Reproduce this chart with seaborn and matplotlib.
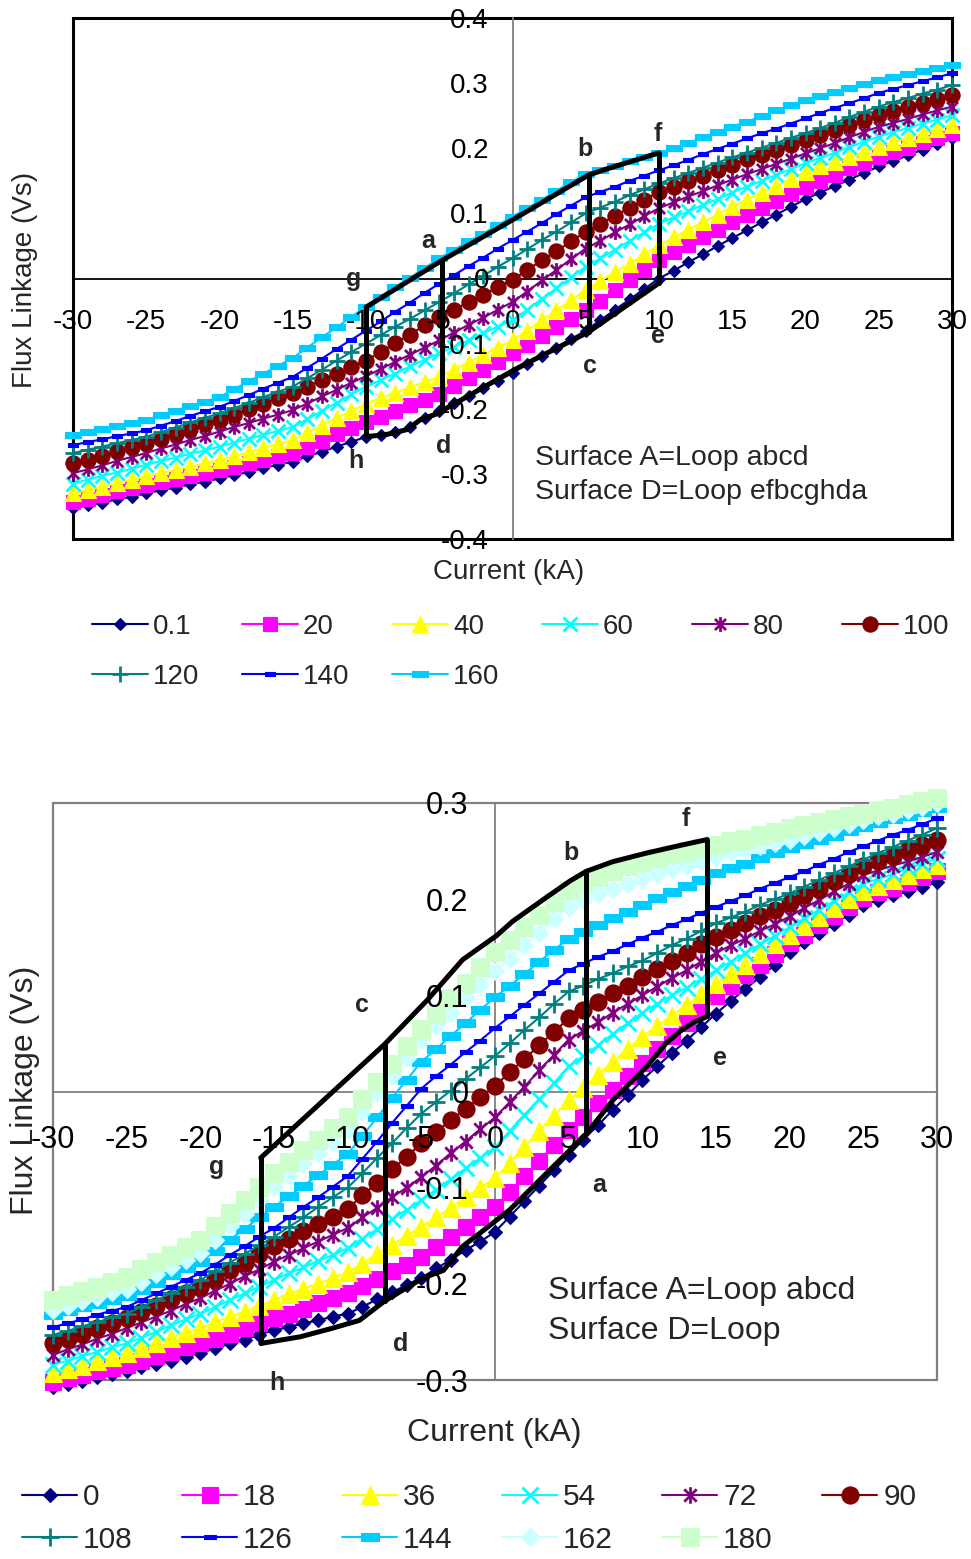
import matplotlib
matplotlib.use("Agg")
import matplotlib.pyplot as plt
import seaborn as sns
import pandas as pd
from matplotlib.path import Path
from matplotlib.patches import Rectangle

# ---------------- data ----------------
current_kA = list(range(-30, 31))

top_labels = ["0.1", "20", "40", "60", "80", "100", "120", "140", "160"]
top_0_1 = [-0.353, -0.348, -0.344, -0.339, -0.335, -0.330, -0.325, -0.321, -0.316, -0.312,
           -0.307, -0.302, -0.297, -0.291, -0.286, -0.281, -0.273, -0.266, -0.258, -0.251,
           -0.243, -0.240, -0.236, -0.228, -0.214, -0.203, -0.191, -0.180, -0.168, -0.157,
           -0.145, -0.132, -0.119, -0.106, -0.093, -0.080, -0.064, -0.048, -0.032, -0.016,
           0.000, 0.012, 0.025, 0.037, 0.050, 0.062, 0.074, 0.086, 0.098, 0.110,
           0.122, 0.132, 0.142, 0.152, 0.162, 0.172, 0.181, 0.189, 0.198, 0.206, 0.215]
top_20 = [-0.343, -0.338, -0.333, -0.327, -0.322, -0.317, -0.312, -0.308, -0.303, -0.299,
          -0.294, -0.289, -0.284, -0.278, -0.273, -0.268, -0.258, -0.249, -0.239, -0.230,
          -0.220, -0.212, -0.203, -0.195, -0.186, -0.178, -0.165, -0.153, -0.140, -0.128,
          -0.115, -0.102, -0.089, -0.075, -0.062, -0.049, -0.034, -0.018, -0.003, 0.013,
          0.028, 0.040, 0.052, 0.063, 0.075, 0.087, 0.098, 0.109, 0.119, 0.130,
          0.141, 0.150, 0.159, 0.169, 0.178, 0.187, 0.194, 0.201, 0.209, 0.216, 0.223]
top_40 = [-0.330, -0.325, -0.320, -0.314, -0.309, -0.304, -0.299, -0.294, -0.289, -0.284,
          -0.279, -0.273, -0.267, -0.260, -0.254, -0.248, -0.237, -0.226, -0.214, -0.203,
          -0.192, -0.184, -0.176, -0.167, -0.159, -0.151, -0.140, -0.129, -0.117, -0.106,
          -0.095, -0.080, -0.064, -0.049, -0.033, -0.018, -0.004, 0.010, 0.023, 0.037,
          0.051, 0.063, 0.075, 0.086, 0.098, 0.110, 0.121, 0.132, 0.142, 0.153,
          0.164, 0.172, 0.179, 0.187, 0.194, 0.202, 0.209, 0.216, 0.222, 0.229, 0.236]
top_60 = [-0.315, -0.309, -0.303, -0.298, -0.292, -0.286, -0.280, -0.275, -0.269, -0.264,
          -0.258, -0.252, -0.246, -0.240, -0.234, -0.228, -0.216, -0.203, -0.191, -0.178,
          -0.166, -0.156, -0.146, -0.135, -0.125, -0.115, -0.105, -0.095, -0.084, -0.074,
          -0.064, -0.048, -0.031, -0.015, 0.002, 0.018, 0.031, 0.044, 0.058, 0.071,
          0.084, 0.094, 0.103, 0.113, 0.122, 0.132, 0.141, 0.150, 0.159, 0.168,
          0.177, 0.185, 0.193, 0.202, 0.210, 0.218, 0.225, 0.231, 0.238, 0.244, 0.251]
top_80 = [-0.299, -0.293, -0.287, -0.280, -0.274, -0.268, -0.261, -0.255, -0.248, -0.242,
          -0.235, -0.228, -0.222, -0.215, -0.209, -0.202, -0.192, -0.181, -0.171, -0.160,
          -0.150, -0.139, -0.128, -0.117, -0.106, -0.095, -0.083, -0.071, -0.060, -0.048,
          -0.036, -0.020, -0.003, 0.013, 0.030, 0.046, 0.058, 0.071, 0.083, 0.096,
          0.108, 0.117, 0.126, 0.134, 0.143, 0.152, 0.160, 0.168, 0.176, 0.184,
          0.192, 0.200, 0.208, 0.217, 0.225, 0.233, 0.239, 0.245, 0.252, 0.258, 0.264]
top_100 = [-0.284, -0.278, -0.272, -0.265, -0.259, -0.253, -0.246, -0.239, -0.231, -0.224,
           -0.217, -0.209, -0.201, -0.192, -0.184, -0.176, -0.166, -0.156, -0.146, -0.136,
           -0.126, -0.113, -0.099, -0.086, -0.072, -0.059, -0.048, -0.036, -0.025, -0.013,
           -0.002, 0.013, 0.028, 0.042, 0.057, 0.072, 0.084, 0.096, 0.109, 0.121,
           0.133, 0.141, 0.150, 0.158, 0.167, 0.175, 0.183, 0.190, 0.198, 0.205,
           0.213, 0.221, 0.228, 0.236, 0.243, 0.251, 0.257, 0.263, 0.270, 0.276, 0.282]
top_120 = [-0.268, -0.263, -0.258, -0.253, -0.248, -0.243, -0.236, -0.229, -0.221, -0.214,
           -0.207, -0.199, -0.191, -0.182, -0.174, -0.166, -0.153, -0.140, -0.126, -0.113,
           -0.100, -0.087, -0.074, -0.062, -0.049, -0.036, -0.023, -0.009, 0.004, 0.018,
           0.031, 0.045, 0.059, 0.072, 0.086, 0.100, 0.109, 0.118, 0.128, 0.137,
           0.146, 0.154, 0.162, 0.170, 0.178, 0.186, 0.193, 0.201, 0.208, 0.216,
           0.223, 0.231, 0.239, 0.248, 0.256, 0.264, 0.271, 0.277, 0.284, 0.290, 0.297]
top_140 = [-0.256, -0.251, -0.247, -0.242, -0.238, -0.233, -0.226, -0.219, -0.211, -0.204,
           -0.197, -0.188, -0.179, -0.169, -0.160, -0.151, -0.137, -0.123, -0.108, -0.094,
           -0.080, -0.066, -0.051, -0.037, -0.022, -0.008, 0.005, 0.019, 0.032, 0.046,
           0.059, 0.072, 0.085, 0.099, 0.112, 0.125, 0.133, 0.141, 0.150, 0.158,
           0.166, 0.174, 0.182, 0.191, 0.199, 0.207, 0.215, 0.223, 0.230, 0.238,
           0.246, 0.254, 0.262, 0.269, 0.277, 0.285, 0.291, 0.297, 0.303, 0.309, 0.315]
top_160 = [-0.240, -0.235, -0.231, -0.226, -0.222, -0.217, -0.210, -0.203, -0.196, -0.189,
           -0.182, -0.170, -0.158, -0.146, -0.134, -0.122, -0.106, -0.090, -0.075, -0.059,
           -0.043, -0.028, -0.013, 0.001, 0.016, 0.031, 0.044, 0.057, 0.069, 0.082,
           0.095, 0.108, 0.121, 0.135, 0.148, 0.161, 0.167, 0.173, 0.180, 0.186,
           0.192, 0.200, 0.208, 0.217, 0.225, 0.233, 0.241, 0.249, 0.258, 0.266,
           0.274, 0.280, 0.286, 0.293, 0.299, 0.305, 0.310, 0.314, 0.319, 0.323, 0.328]

bot_labels = ["0", "18", "36", "54", "72", "90", "108", "126", "144", "162", "180"]
bot_0 = [-0.307, -0.304, -0.301, -0.297, -0.294, -0.291, -0.287, -0.283, -0.280, -0.276,
         -0.272, -0.267, -0.262, -0.258, -0.253, -0.248, -0.245, -0.241, -0.238, -0.234,
         -0.231, -0.224, -0.216, -0.209, -0.201, -0.194, -0.184, -0.175, -0.165, -0.156,
         -0.146, -0.130, -0.114, -0.098, -0.082, -0.066, -0.050, -0.035, -0.019, -0.004,
         0.012, 0.026, 0.040, 0.053, 0.067, 0.081, 0.094, 0.107, 0.119, 0.132,
         0.145, 0.155, 0.165, 0.174, 0.184, 0.194, 0.199, 0.204, 0.208, 0.213, 0.218]
bot_18 = [-0.302, -0.298, -0.295, -0.291, -0.288, -0.284, -0.280, -0.275, -0.271, -0.266,
          -0.262, -0.257, -0.252, -0.246, -0.241, -0.236, -0.231, -0.226, -0.220, -0.215,
          -0.210, -0.202, -0.195, -0.187, -0.180, -0.172, -0.162, -0.151, -0.141, -0.130,
          -0.120, -0.104, -0.088, -0.072, -0.056, -0.040, -0.026, -0.012, 0.002, 0.016,
          0.030, 0.044, 0.058, 0.071, 0.085, 0.099, 0.110, 0.121, 0.132, 0.143,
          0.154, 0.163, 0.173, 0.182, 0.192, 0.201, 0.207, 0.212, 0.218, 0.223, 0.229]
bot_36 = [-0.293, -0.289, -0.285, -0.280, -0.276, -0.272, -0.267, -0.262, -0.256, -0.251,
          -0.246, -0.240, -0.234, -0.229, -0.223, -0.217, -0.211, -0.205, -0.200, -0.194,
          -0.188, -0.179, -0.169, -0.160, -0.150, -0.141, -0.131, -0.121, -0.110, -0.100,
          -0.090, -0.074, -0.058, -0.041, -0.025, -0.009, 0.004, 0.017, 0.031, 0.044,
          0.057, 0.068, 0.079, 0.090, 0.101, 0.112, 0.122, 0.132, 0.143, 0.153,
          0.163, 0.172, 0.181, 0.191, 0.200, 0.209, 0.214, 0.220, 0.225, 0.231, 0.236]
bot_54 = [-0.284, -0.280, -0.275, -0.271, -0.266, -0.262, -0.256, -0.250, -0.243, -0.237,
          -0.231, -0.224, -0.217, -0.210, -0.203, -0.196, -0.189, -0.183, -0.176, -0.170,
          -0.163, -0.153, -0.143, -0.133, -0.123, -0.113, -0.102, -0.091, -0.080, -0.069,
          -0.058, -0.041, -0.024, -0.008, 0.009, 0.026, 0.037, 0.048, 0.060, 0.071,
          0.082, 0.091, 0.100, 0.108, 0.117, 0.126, 0.135, 0.144, 0.153, 0.162,
          0.171, 0.180, 0.189, 0.198, 0.207, 0.216, 0.221, 0.226, 0.232, 0.237, 0.242]
bot_72 = [-0.274, -0.268, -0.263, -0.257, -0.252, -0.246, -0.240, -0.234, -0.228, -0.221,
          -0.215, -0.207, -0.200, -0.192, -0.185, -0.177, -0.170, -0.163, -0.156, -0.149,
          -0.142, -0.131, -0.121, -0.110, -0.100, -0.089, -0.077, -0.064, -0.052, -0.039,
          -0.027, -0.011, 0.005, 0.022, 0.038, 0.054, 0.063, 0.072, 0.082, 0.091,
          0.100, 0.109, 0.118, 0.126, 0.135, 0.144, 0.152, 0.159, 0.167, 0.174,
          0.182, 0.191, 0.199, 0.208, 0.216, 0.225, 0.230, 0.235, 0.239, 0.244, 0.249]
bot_90 = [-0.262, -0.257, -0.252, -0.246, -0.241, -0.236, -0.229, -0.223, -0.216, -0.210,
          -0.203, -0.195, -0.186, -0.178, -0.169, -0.161, -0.153, -0.145, -0.138, -0.130,
          -0.122, -0.108, -0.095, -0.081, -0.068, -0.054, -0.042, -0.030, -0.018, -0.006,
          0.006, 0.020, 0.034, 0.048, 0.062, 0.076, 0.085, 0.093, 0.102, 0.110,
          0.119, 0.127, 0.136, 0.144, 0.153, 0.161, 0.168, 0.175, 0.182, 0.189,
          0.196, 0.204, 0.211, 0.219, 0.226, 0.234, 0.240, 0.245, 0.251, 0.256, 0.262]
bot_108 = [-0.253, -0.249, -0.244, -0.240, -0.235, -0.231, -0.224, -0.217, -0.210, -0.203,
           -0.196, -0.187, -0.178, -0.169, -0.160, -0.151, -0.141, -0.131, -0.120, -0.110,
           -0.100, -0.085, -0.069, -0.054, -0.038, -0.023, -0.011, 0.001, 0.013, 0.025,
           0.037, 0.050, 0.064, 0.077, 0.091, 0.104, 0.110, 0.117, 0.123, 0.130,
           0.136, 0.144, 0.152, 0.159, 0.167, 0.175, 0.181, 0.187, 0.194, 0.200,
           0.206, 0.213, 0.220, 0.227, 0.234, 0.241, 0.248, 0.254, 0.261, 0.267, 0.274]
bot_126 = [-0.245, -0.241, -0.237, -0.232, -0.228, -0.224, -0.217, -0.210, -0.203, -0.196,
           -0.189, -0.180, -0.170, -0.161, -0.151, -0.142, -0.131, -0.120, -0.110, -0.099,
           -0.088, -0.070, -0.052, -0.033, -0.015, 0.003, 0.016, 0.028, 0.041, 0.053,
           0.066, 0.078, 0.090, 0.102, 0.114, 0.126, 0.133, 0.140, 0.146, 0.153,
           0.160, 0.166, 0.173, 0.179, 0.186, 0.192, 0.198, 0.204, 0.211, 0.217,
           0.223, 0.229, 0.236, 0.242, 0.249, 0.255, 0.261, 0.267, 0.272, 0.278, 0.284]
bot_144 = [-0.232, -0.228, -0.224, -0.221, -0.217, -0.213, -0.206, -0.199, -0.191, -0.184,
           -0.177, -0.166, -0.154, -0.143, -0.131, -0.120, -0.109, -0.098, -0.087, -0.076,
           -0.065, -0.046, -0.027, -0.007, 0.012, 0.031, 0.044, 0.058, 0.071, 0.085,
           0.098, 0.110, 0.122, 0.135, 0.147, 0.159, 0.166, 0.173, 0.180, 0.187,
           0.194, 0.201, 0.207, 0.214, 0.220, 0.227, 0.232, 0.237, 0.243, 0.248,
           0.253, 0.257, 0.262, 0.266, 0.271, 0.275, 0.279, 0.283, 0.287, 0.291, 0.295]
bot_162 = [-0.227, -0.223, -0.218, -0.214, -0.209, -0.205, -0.198, -0.190, -0.183, -0.175,
           -0.168, -0.154, -0.140, -0.127, -0.113, -0.099, -0.087, -0.075, -0.064, -0.052,
           -0.040, -0.021, -0.002, 0.016, 0.035, 0.054, 0.068, 0.082, 0.097, 0.111,
           0.125, 0.138, 0.152, 0.165, 0.179, 0.192, 0.199, 0.205, 0.211, 0.216,
           0.221, 0.226, 0.231, 0.235, 0.240, 0.244, 0.248, 0.251, 0.255, 0.258,
           0.262, 0.266, 0.270, 0.274, 0.278, 0.282, 0.286, 0.289, 0.293, 0.296, 0.300]
bot_180 = [-0.217, -0.212, -0.207, -0.203, -0.198, -0.193, -0.185, -0.177, -0.170, -0.162,
           -0.154, -0.140, -0.126, -0.113, -0.099, -0.085, -0.073, -0.061, -0.050, -0.038,
           -0.026, -0.008, 0.010, 0.029, 0.047, 0.065, 0.081, 0.097, 0.113, 0.129,
           0.145, 0.158, 0.171, 0.184, 0.197, 0.210, 0.217, 0.223, 0.229, 0.234,
           0.239, 0.243, 0.247, 0.250, 0.253, 0.256, 0.260, 0.263, 0.267, 0.270,
           0.274, 0.277, 0.280, 0.283, 0.286, 0.289, 0.292, 0.295, 0.299, 0.302, 0.305]

# loop outlines
top_loop_upper_x = [-10.0, -4.8, 0.0, 5.2, 6.4, 10.0]
top_loop_upper_y = [-0.044, 0.028, 0.090, 0.159, 0.168, 0.193]
top_loop_lower_x = [10.0, 5.2, 0.3, -4.8, -5.3, -6.3, -7.2, -8.5, -10.0]
top_loop_lower_y = [-0.007, -0.082, -0.138, -0.203, -0.209, -0.217, -0.232, -0.239, -0.243]
top_loop_vert_x = [-10.0, -4.8, 5.2, 10.0]
top_loop_vert_lo = [-0.243, -0.203, -0.082, -0.007]
top_loop_vert_hi = [-0.044, 0.028, 0.159, 0.193]

bot_loop_upper_x = [-15.9, -7.5, -4.6, -2.2, 0.1, 1.2, 3.5, 5.1, 6.2, 8.0, 10.3, 12.6, 14.4]
bot_loop_upper_y = [-0.069, 0.049, 0.095, 0.137, 0.162, 0.177, 0.202, 0.219, 0.229, 0.239, 0.248, 0.256, 0.262]
bot_loop_lower_x = [14.4, 13.5, 12.6, 11.6, 10.3, 8.0, 6.2, 3.5, 1.0, -1.0, -2.2, -3.5, -4.9,
                    -7.5, -9.2, -11.0, -13.2, -15.9]
bot_loop_lower_y = [0.078, 0.072, 0.063, 0.050, 0.026, -0.009, -0.044, -0.085, -0.123, -0.147,
                    -0.161, -0.186, -0.194, -0.218, -0.238, -0.246, -0.255, -0.262]
bot_loop_vert_x = [-15.9, -7.5, 6.2, 14.4]
bot_loop_vert_lo = [-0.262, -0.218, -0.044, 0.078]
bot_loop_vert_hi = [-0.069, 0.049, 0.229, 0.262]

# point labels
top_pt_names = ["a", "b", "f", "g", "h", "d", "c", "e"]
top_pt_x = [-5.75, 4.95, 9.95, -10.85, -10.7, -4.67, 5.3, 9.95]
top_pt_y = [0.062, 0.202, 0.225, 0.003, -0.276, -0.253, -0.130, -0.084]
bot_pt_names = ["b", "f", "c", "e", "g", "a", "d", "h"]
bot_pt_x = [5.16, 12.97, -9.03, 15.27, -18.87, 7.06, -6.38, -14.8]
bot_pt_y = [0.251, 0.286, 0.093, 0.037, -0.076, -0.095, -0.260, -0.300]

top_note = ["Surface A=Loop abcd", "Surface D=Loop efbcghda"]
bot_note = ["Surface A=Loop abcd", "Surface D=Loop"]

top_xticks = [-30, -25, -20, -15, -10, -5, 0, 5, 10, 15, 20, 25, 30]
top_xticklabels = ["-30", "-25", "-20", "-15", "-10", "-5", "0", "5", "10", "15", "20", "25", "30"]
top_yticks = [-0.4, -0.3, -0.2, -0.1, 0.0, 0.1, 0.2, 0.3, 0.4]
top_yticklabels = ["-0.4", "-0.3", "-0.2", "-0.1", "0", "0.1", "0.2", "0.3", "0.4"]
bot_yticks = [-0.3, -0.2, -0.1, 0.0, 0.1, 0.2, 0.3]
bot_yticklabels = ["-0.3", "-0.2", "-0.1", "0", "0.1", "0.2", "0.3"]

# ---------------- styling ----------------
sns.set_theme(style="white")
plt.rcParams["font.family"] = ["Liberation Sans", "DejaVu Sans"]

W, H = 971, 1559
fig = plt.figure(figsize=(W / 100, H / 100), dpi=100)


def rect(l, t, r, b):
    return [l / W, 1 - b / H, (r - l) / W, (b - t) / H]


ast = Path([(0, -1), (0, 1), (-0.75, -0.75), (0.75, 0.75), (-0.75, 0.75), (0.75, -0.75)],
           [Path.MOVETO, Path.LINETO, Path.MOVETO, Path.LINETO, Path.MOVETO, Path.LINETO])
bar = Path([(-1, -0.42), (1, -0.42), (1, 0.42), (-1, 0.42), (-1, -0.42)],
           [Path.MOVETO, Path.LINETO, Path.LINETO, Path.LINETO, Path.CLOSEPOLY])

# (color, marker, markersize, filled)
styles = [
    ("#000080", "D", 5.2, True),
    ("#FF00FF", "s", 8.0, True),
    ("#FFFF00", "^", 9.5, True),
    ("#00FFFF", "x", 8.0, False),
    ("#800080", ast, 8.5, False),
    ("#800000", "o", 8.8, True),
    ("#008080", "+", 9.5, False),
    ("#0000FF", bar, 6.0, True),
    ("#00CCFF", bar, 9.0, True),
    ("#CCFFFF", "D", 6.5, True),
    ("#CCFFCC", "s", 9.5, True),
]


def draw_series(ax, series, labels, scale=1.0):
    handles = []
    for i, (vals, lab) in enumerate(zip(series, labels)):
        color, mk, ms, filled = styles[i]
        df = pd.DataFrame({"Current (kA)": current_kA, "Flux": vals})
        sns.lineplot(data=df, x="Current (kA)", y="Flux", ax=ax, color=color,
                     marker=mk, markersize=ms * scale,
                     markerfacecolor=color if filled else "none",
                     markeredgecolor=color,
                     markeredgewidth=0.8 if filled else 2.0,
                     linewidth=1.5, clip_on=False, zorder=3, legend=False,
                     estimator=None, errorbar=None, sort=False)
        line = ax.lines[-1]
        line.set_label(lab)
        handles.append(line)
    return handles


def setup(ax, yticks, ytl, frame_color, frame_lw, hcol, vcol, fs, xpad, ypad):
    ax.set_xlim(-30, 30)
    ax.set_ylim(yticks[0], yticks[-1])
    ax.patch.set_alpha(0)
    for s in ["top", "right"]:
        ax.spines[s].set_visible(False)
    ax.spines["left"].set_position(("data", 0))
    ax.spines["bottom"].set_position(("data", 0))
    ax.spines["bottom"].set_color(hcol)
    ax.spines["left"].set_color(vcol)
    ax.spines["bottom"].set_linewidth(1.3)
    ax.spines["left"].set_linewidth(1.3)
    ax.spines["bottom"].set_zorder(1)
    ax.spines["left"].set_zorder(1)
    ax.set_xticks(top_xticks)
    ax.set_xticklabels(top_xticklabels)
    ax.set_yticks(yticks)
    ax.set_yticklabels(ytl)
    ax.tick_params(axis="x", direction="out", length=6, width=1, color="#808080",
                   pad=xpad, labelsize=fs, labelcolor="black")
    ax.tick_params(axis="y", direction="out", length=6, width=1, color="#808080",
                   pad=ypad, labelsize=fs, labelcolor="black")
    ax.set_xlabel("")
    ax.set_ylabel("")
    ax.add_patch(Rectangle((0, 0), 1, 1, transform=ax.transAxes, fill=False,
                           edgecolor=frame_color, linewidth=frame_lw, clip_on=False, zorder=1))
    ax.xaxis.set_zorder(6)
    ax.yaxis.set_zorder(6)


def draw_loop(ax, ux, uy, lx, ly, vx, vlo, vhi):
    kw = dict(color="black", linewidth=3.6, zorder=4, solid_joinstyle="round",
              solid_capstyle="round", clip_on=False)
    ax.plot(ux, uy, **kw)
    ax.plot(lx, ly, **kw)
    for x, lo, hi in zip(vx, vlo, vhi):
        ax.plot([x, x], [lo, hi], **kw)


def col_legends(handles, labels, x0, pitch, top, fs, lspace, hlen):
    n = len(handles)
    ncol = 6
    for j in range(ncol):
        idx = [k for k in (j, j + ncol) if k < n]
        fig.legend([handles[k] for k in idx], [labels[k] for k in idx], loc="upper left",
                   bbox_to_anchor=((x0 + j * pitch) / W, 1 - top / H), frameon=False,
                   borderpad=0, borderaxespad=0, handlelength=hlen, handletextpad=0.2,
                   labelspacing=lspace, fontsize=fs, numpoints=1)


# ---------------- top chart ----------------
ax1 = fig.add_axes(rect(73, 18, 952, 539))
top_series = [top_0_1, top_20, top_40, top_60, top_80, top_100, top_120, top_140, top_160]
h1 = draw_series(ax1, top_series, top_labels, scale=1.25)
setup(ax1, top_yticks, top_yticklabels, "black", 2.2, "black", "#808080", 20, 16, 11)
draw_loop(ax1, top_loop_upper_x, top_loop_upper_y, top_loop_lower_x, top_loop_lower_y,
          top_loop_vert_x, top_loop_vert_lo, top_loop_vert_hi)
for n, x, y in zip(top_pt_names, top_pt_x, top_pt_y):
    ax1.text(x, y, n, fontsize=18, fontweight="bold", ha="center", va="center_baseline", zorder=7)
ax1.text(1.54, -0.276, top_note[0], fontsize=20.5, ha="left", va="center", zorder=7)
ax1.text(1.54, -0.328, top_note[1], fontsize=20.5, ha="left", va="center", zorder=7)
fig.text(509 / W, 1 - 572 / H, "Current (kA)", fontsize=20, ha="center", va="center")
fig.text(25 / W, 1 - 280 / H, "Flux Linkage (Vs)", fontsize=20, ha="center", va="center",
         rotation=90)
col_legends(h1, top_labels, 92, 150, 614, 20, 0.85, 2.0)

# ---------------- bottom chart ----------------
ax2 = fig.add_axes(rect(53, 803, 937, 1380))
bot_series = [bot_0, bot_18, bot_36, bot_54, bot_72, bot_90, bot_108, bot_126, bot_144,
              bot_162, bot_180]
h2 = draw_series(ax2, bot_series, bot_labels, scale=1.4)
setup(ax2, bot_yticks, bot_yticklabels, "#808080", 1.6, "#808080", "#808080", 22, 18, 13)
draw_loop(ax2, bot_loop_upper_x, bot_loop_upper_y, bot_loop_lower_x, bot_loop_lower_y,
          bot_loop_vert_x, bot_loop_vert_lo, bot_loop_vert_hi)
for n, x, y in zip(bot_pt_names, bot_pt_x, bot_pt_y):
    ax2.text(x, y, n, fontsize=18, fontweight="bold", ha="center", va="center_baseline", zorder=7)
ax2.text(3.6, -0.207, bot_note[0], fontsize=23, ha="left", va="center", zorder=7)
ax2.text(3.6, -0.249, bot_note[1], fontsize=23, ha="left", va="center", zorder=7)
fig.text(494 / W, 1 - 1433 / H, "Current (kA)", fontsize=23, ha="center", va="center")
fig.text(25 / W, 1 - 1090 / H, "Flux Linkage (Vs)", fontsize=23, ha="center", va="center",
         rotation=90)
col_legends(h2, bot_labels, 22, 160, 1483, 21.5, 0.5, 1.85)

fig.savefig("out.png", dpi=100)
